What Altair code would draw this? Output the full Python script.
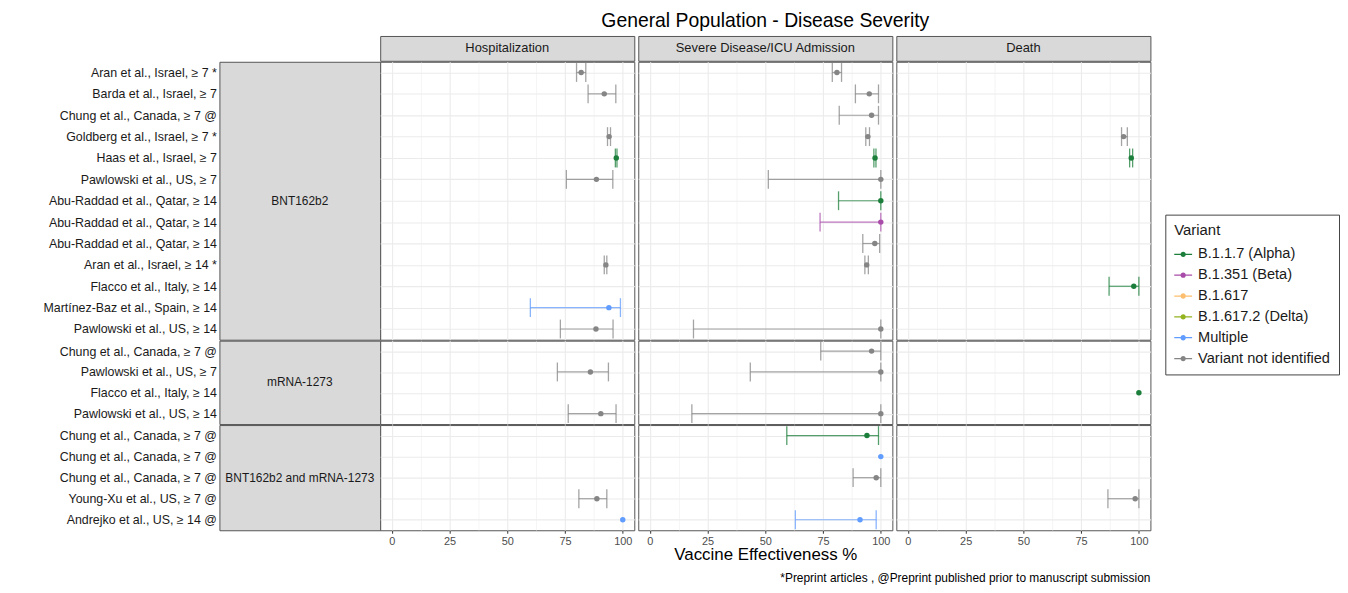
import json
import altair as alt
import pandas as pd

title_text = "General Population - Disease Severity"
x_title = "Vaccine Effectiveness %"
caption = "*Preprint articles , @Preprint published prior to manuscript submission"

blocks = ["BNT162b2", "mRNA-1273", "BNT162b2 and mRNA-1273"]
outcomes = ["Hospitalization", "Severe Disease/ICU Admission", "Death"]

variants = ["B.1.1.7 (Alpha)", "B.1.351 (Beta)", "B.1.617", "B.1.617.2 (Delta)",
            "Multiple", "Variant not identified"]
variant_colors = ["#1B7F3B", "#A94CA9", "#FDBF6F", "#93B31F", "#619CFF", "#858585"]

A, B, M, N = variants[0], variants[1], variants[4], variants[5]

row_block = ["BNT162b2"] * 13 + ["mRNA-1273"] * 4 + ["BNT162b2 and mRNA-1273"] * 5
row_label = [
    "Aran et al., Israel, ≥ 7 *",
    "Barda et al., Israel, ≥ 7",
    "Chung et al., Canada, ≥ 7 @",
    "Goldberg et al., Israel, ≥ 7 *",
    "Haas et al., Israel, ≥ 7",
    "Pawlowski et al., US, ≥ 7",
    "Abu-Raddad et al., Qatar, ≥ 14",
    "Abu-Raddad et al., Qatar, ≥ 14",
    "Abu-Raddad et al., Qatar, ≥ 14",
    "Aran et al., Israel, ≥ 14 *",
    "Flacco et al., Italy, ≥ 14",
    "Martínez-Baz et al., Spain, ≥ 14",
    "Pawlowski et al., US, ≥ 14",
    "Chung et al., Canada, ≥ 7 @",
    "Pawlowski et al., US, ≥ 7",
    "Flacco et al., Italy, ≥ 14",
    "Pawlowski et al., US, ≥ 14",
    "Chung et al., Canada, ≥ 7 @",
    "Chung et al., Canada, ≥ 7 @",
    "Chung et al., Canada, ≥ 7 @",
    "Young-Xu et al., US, ≥ 7 @",
    "Andrejko et al., US, ≥ 14 @",
]
row_variant = [N, N, N, N, A, N, A, B, N, N, A, M, N,
               N, N, A, N,
               A, M, N, N, M]

hosp_ve = [82, 92, None, 94.1, 97.2, 88.6, None, None, None, 92.7, None, 94, 88.4,
           None, 86, None, 90.5,
           None, None, None, 88.8, 100]
hosp_lo = [80, 85, None, 93.4, 96.8, 75.6, None, None, None, 92.0, None, 60, 73,
           None, 71.7, None, 76.4,
           None, None, None, 81, None]
hosp_hi = [84, 97, None, 94.7, 97.5, 95.7, None, None, None, 93.1, None, 99, 95.8,
           None, 93.8, None, 97.1,
           None, None, None, 93.1, None]

sev_ve = [81, 95, 96, 94.4, 97.5, 100, 100, 100, 97.4, 93.9, None, None, 100,
          96, 100, None, 100,
          94, 100, 98, None, 91]
sev_lo = [79, 89, 82, 93.5, 97.0, 51.3, 81.7, 73.7, 92.2, 93.1, None, None, 18.9,
          74, 43.5, None, 18.2,
          59.3, None, 88, None, 63]
sev_hi = [83, 99, 99, 95.1, 97.9, 100, 100, 100, 99.5, 94.6, None, None, 100,
          100, 100, None, 100,
          99, None, 100, None, 98]

death_ve = [None, None, None, 93.4, 96.7, None, None, None, None, None, 97.8, None, None,
            None, None, 100, None,
            None, None, None, 98.4, None]
death_lo = [None, None, None, 92.5, 96.0, None, None, None, None, None, 87.1, None, None,
            None, None, None, None,
            None, None, None, 86.6, None]
death_hi = [None, None, None, 95.0, 97.3, None, None, None, None, None, 100, None, None,
            None, None, None, None,
            None, None, None, 100, None]

x_major = [0, 25, 50, 75, 100]
x_minor = [12.5, 37.5, 62.5, 87.5]

# ---------------------------------------------------------------- data table
series = {
    outcomes[0]: (hosp_ve, hosp_lo, hosp_hi),
    outcomes[1]: (sev_ve, sev_lo, sev_hi),
    outcomes[2]: (death_ve, death_lo, death_hi),
}
records = []
for o, (ve, lo, hi) in series.items():
    for i in range(len(row_label)):
        if ve[i] is None:
            continue
        records.append(dict(row=i, block=row_block[i], label=row_label[i],
                            variant=row_variant[i], outcome=o,
                            ve=ve[i], lo=lo[i], hi=hi[i]))
df = pd.DataFrame(records)
rows_df = pd.DataFrame({"row": list(range(len(row_label))), "block": row_block,
                        "label": row_label})

# ---------------------------------------------------------------- layout sizes
PW = 256          # panel width
SW = 162          # strip width
HH = 25           # header height
BH = [280, 84, 106]  # block heights
GAP = 4           # gap between outcome panels

cscale = alt.Scale(domain=variants, range=variant_colors)
# same mapping, listed in reverse so that it stays a separate (legend-less) scale
cscale_rev = alt.Scale(domain=variants[::-1], range=variant_colors[::-1])
xscale = alt.Scale(domain=[-5, 105], nice=False, zero=False)

legend_path = ("M-1,-0.07H1V0.07H-1Z "
               "M0.3,0A0.3,0.3,0,1,1,-0.3,0A0.3,0.3,0,1,1,0.3,0Z")
legend = alt.Legend(title="Variant", orient="none", legendX=953, legendY=180,
                    symbolType=legend_path, symbolSize=324, symbolStrokeWidth=0,
                    symbolOpacity=1, strokeColor="#444444", fillColor="white",
                    padding=9, titleFontSize=15, titleFontWeight="normal",
                    titleColor="#1A1A1A", labelFontSize=14.7, labelColor="#1A1A1A",
                    rowPadding=5, titlePadding=7, labelOffset=6, labelLimit=300)

label_lookup = json.dumps(row_label, ensure_ascii=False)
grid_width = {"condition": {"test": "datum.value % 25 !== 0", "value": 0.5}, "value": 1.1}
tick_op = {"condition": {"test": "datum.value % 25 !== 0", "value": 0}, "value": 1}


def block_ids(bi):
    return [i for i in range(len(row_label)) if row_block[i] == blocks[bi]]


def yscale(bi):
    return alt.Scale(type="point", domain=block_ids(bi), padding=0.5)


def panel(bi, oi):
    b, o = blocks[bi], outcomes[oi]
    sub = df[(df.block == b) & (df.outcome == o)]
    bottom = bi == len(blocks) - 1
    if bottom:
        xax = alt.Axis(values=sorted(x_major + x_minor), grid=True, gridColor="#EBEBEB",
                       gridWidth=grid_width, domain=False, ticks=True, tickSize=3,
                       tickColor="#333333", tickOpacity=tick_op,
                       labelExpr="datum.value % 25 === 0 ? datum.label : ''",
                       labelColor="#4D4D4D", labelFontSize=11, labelPadding=2,
                       labelOverlap=False,
                       title=x_title if oi == 1 else None,
                       titleFontSize=17, titleFontWeight="normal", titleColor="#000000",
                       titlePadding=0)
    else:
        xax = alt.Axis(values=sorted(x_major + x_minor), grid=True, gridColor="#EBEBEB",
                       gridWidth=grid_width, domain=False, ticks=False, labels=False,
                       title=None)
    yax = alt.Axis(grid=True, gridColor="#EBEBEB", gridWidth=1.1, domain=False,
                   ticks=False, labels=False, title=None)
    y = alt.Y("row:O", scale=yscale(bi), axis=yax)

    def X(field):
        return alt.X(f"{field}:Q", scale=xscale, axis=xax)

    ci = alt.Chart(sub).transform_filter("isValid(datum.lo)")
    rule = ci.mark_rule(strokeWidth=1.2, opacity=0.75).encode(
        x=X("lo"), x2=alt.X2("hi"), y=y,
        stroke=alt.Stroke("variant:N", scale=cscale_rev, legend=None))
    tlo = ci.mark_tick(orient="vertical", size=19, thickness=1.3, opacity=0.75).encode(
        x=X("lo"), y=y, fill=alt.Fill("variant:N", scale=cscale_rev, legend=None))
    thi = ci.mark_tick(orient="vertical", size=19, thickness=1.3, opacity=0.75).encode(
        x=X("hi"), y=y, fill=alt.Fill("variant:N", scale=cscale_rev, legend=None))
    pts = alt.Chart(sub).mark_circle(size=30, opacity=1).encode(
        x=X("ve"), y=y, color=alt.Color("variant:N", scale=cscale, legend=legend))
    ch = alt.layer(rule, tlo, thi, pts).properties(
        width=PW, height=BH[bi],
        view=alt.ViewBackground(fill="white", stroke="#555555", strokeWidth=1))
    if bottom and oi == 2:
        ch = ch.properties(title=alt.TitleParams(
            caption, orient="bottom", anchor="end", fontSize=12, fontWeight="normal",
            color="#000000", offset=27))
    return ch


def strip(bi):
    b = blocks[bi]
    sub = rows_df[rows_df.block == b]
    yax = alt.Axis(labelExpr=f"{label_lookup}[datum.value]", labelFontSize=12.5,
                   labelColor="#1A1A1A", labelPadding=3, labelLimit=400, ticks=False,
                   domain=False, grid=False, title=None)
    axis_layer = alt.Chart(sub).mark_point(opacity=0).encode(
        y=alt.Y("row:O", scale=yscale(bi), axis=yax))
    txt = alt.Chart(pd.DataFrame({"block": [b]})).mark_text(
        fontSize=12, color="#1A1A1A").encode(
        text="block:N", x=alt.value(SW / 2), y=alt.value(BH[bi] / 2))
    return alt.layer(axis_layer, txt).properties(
        width=SW, height=BH[bi],
        view=alt.ViewBackground(fill="#D9D9D9", stroke="#555555", strokeWidth=1))


def header(oi):
    ch = alt.Chart(pd.DataFrame({"outcome": [outcomes[oi]]})).mark_text(
        fontSize=13, color="#1A1A1A").encode(
        text="outcome:N", x=alt.value(PW / 2), y=alt.value(HH / 2)).properties(
        width=PW, height=HH,
        view=alt.ViewBackground(fill="#D9D9D9", stroke="#555555", strokeWidth=1))
    if oi == 1:
        ch = ch.properties(title=alt.TitleParams(
            title_text, fontSize=19.5, fontWeight="normal", color="#000000",
            anchor="middle", offset=5))
    return ch


spacer = alt.Chart(pd.DataFrame({"t": [""]})).mark_text().encode(
    text="t:N").properties(width=SW, height=HH,
                           view=alt.ViewBackground(fill="transparent", stroke="transparent"))

rows = [alt.hconcat(spacer,
                    alt.hconcat(*[header(oi) for oi in range(3)], spacing=GAP, bounds="flush"),
                    spacing=0, bounds="flush")]
for bi in range(len(blocks)):
    rows.append(alt.hconcat(strip(bi),
                            alt.hconcat(*[panel(bi, oi) for oi in range(3)],
                                        spacing=GAP, bounds="flush"),
                            spacing=0, bounds="flush"))

chart = alt.vconcat(*rows, spacing=-2).resolve_scale(
    color="shared").resolve_legend(color="shared").properties(
    padding={"left": 34, "top": 0, "right": 0, "bottom": 4},
    background="white").configure(font="Liberation Sans")

chart.save("out.html", embed_options={"renderer": "svg", "actions": False})
